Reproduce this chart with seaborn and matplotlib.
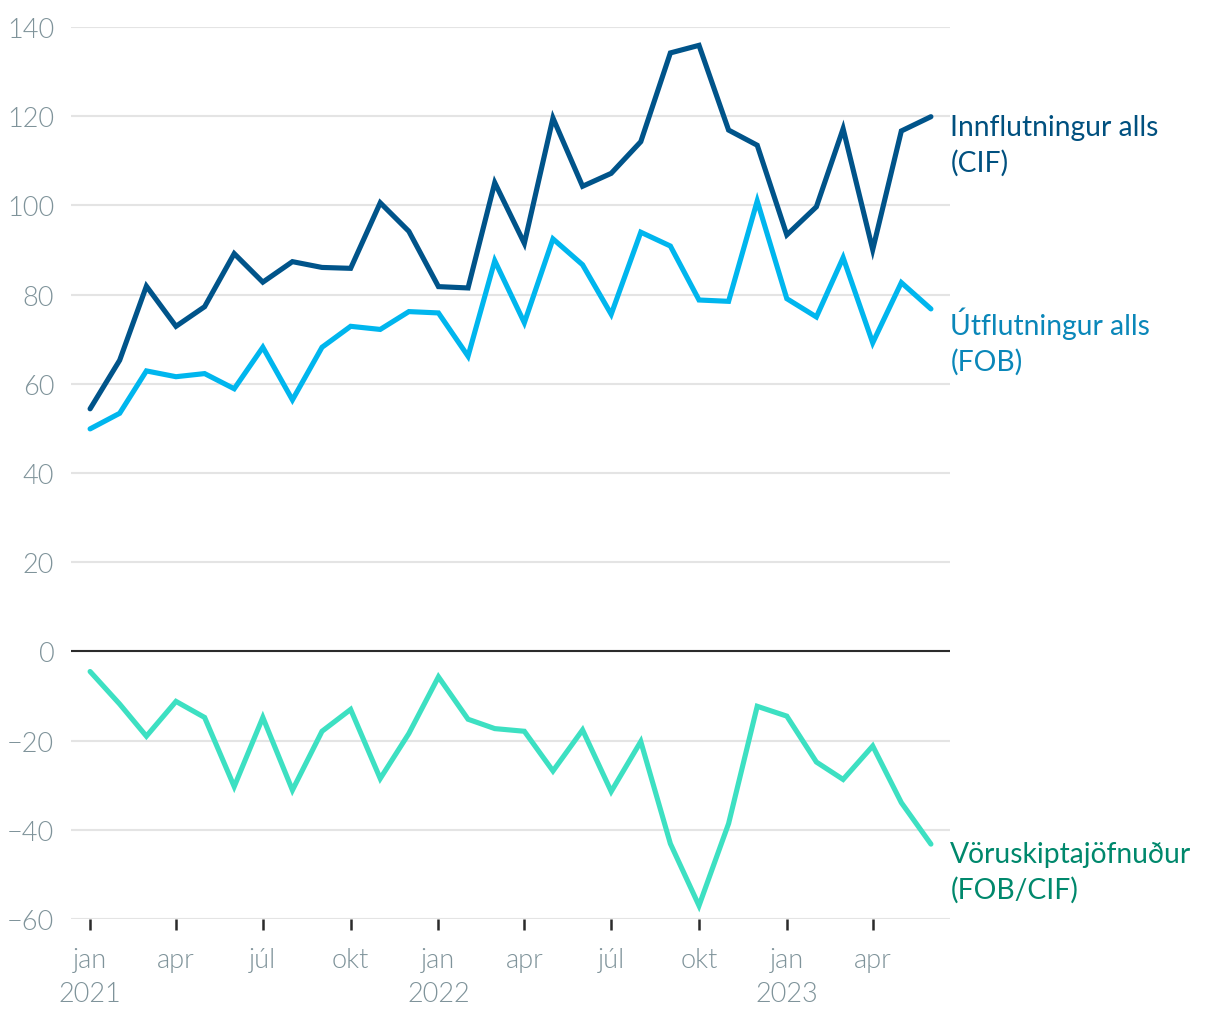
import pandas as pd
import matplotlib.pyplot as plt
import seaborn as sns

###############################################################################
#data (ma. kr.)
months = pd.date_range("2021-01-01", "2023-06-01", freq="MS")

innflutningur = [54.4, 65.3, 81.9, 72.9, 77.3, 89.2, 82.8, 87.4, 86.1, 85.9, 100.6, 94.2,
                 81.8, 81.5, 105.1, 91.5, 119.6, 104.3, 107.2, 114.3, 134.2, 135.9, 116.9, 113.5,
                 93.4, 99.7, 117.2, 90.1, 116.7, 119.9]
utflutningur = [49.9, 53.4, 62.9, 61.6, 62.3, 58.9, 68.2, 56.4, 68.2, 72.9, 72.2, 76.2,
                75.9, 66.2, 87.6, 73.7, 92.5, 86.7, 75.6, 94.0, 90.9, 78.8, 78.5, 101.0,
                79.1, 75.0, 88.3, 69.2, 82.7, 76.8]
voruskiptajofnudur = [-4.5, -11.8, -19.0, -11.2, -14.8, -30.3, -14.8, -31.1, -17.9, -13.0, -28.5, -18.4,
                      -5.7, -15.2, -17.3, -17.9, -26.8, -17.6, -31.4, -20.2, -43.1, -57.0, -38.6, -12.3,
                      -14.5, -24.8, -28.7, -21.2, -33.9, -43.2]

labels = ["Innflutningur alls\n(CIF)", "Útflutningur alls\n(FOB)", "Vöruskiptajöfnuður\n(FOB/CIF)"]
line_colors = ["#00548a", "#00b6ee", "#3de0c2"]
text_colors = ["#00507f", "#0a87b9", "#00886c"]
y_ticks = [-60, -40, -20, 0, 20, 40, 60, 80, 100, 120, 140]
x_ticks = pd.date_range("2021-01-01", "2023-04-01", freq="QS")
month_names = {1: "jan", 4: "apr", 7: "júl", 10: "okt"}

###############################################################################
#long dataframe for seaborn
df = pd.DataFrame({
    "dags": list(months) * 3,
    "gildi": innflutningur + utflutningur + voruskiptajofnudur,
    "flokkur": [labels[0]] * len(months) + [labels[1]] * len(months) + [labels[2]] * len(months),
})

sns.set_style("white")
plt.rcParams["font.family"] = ["Lato", "DejaVu Sans"]

fig = plt.figure(figsize=(12.2, 10.2), dpi=100)
ax = fig.add_axes([0.0582, 0.098, 0.7205, 0.8745])

sns.lineplot(data=df, x="dags", y="gildi", hue="flokkur", palette=dict(zip(labels, line_colors)),
             linewidth=3.7, legend=False, ax=ax, clip_on=False)
for line in ax.lines:
    line.set_solid_capstyle("round")
    line.set_solid_joinstyle("miter")
    line.set_zorder(3)

#zero line
ax.axhline(0, color="#2b2b2b", linewidth=1.5, zorder=2)

#labels at the end of each line
for series, lab, col in zip([innflutningur, utflutningur, voruskiptajofnudur], labels, text_colors):
    ax.annotate(lab, xy=(months[-1], series[-1]), xytext=(14, 2), textcoords="offset points",
                va="top", ha="left", fontsize=20.3, color=col, linespacing=1.4,
                annotation_clip=False)

#axes
ax.set_ylim(-60, 140)
ax.set_xlim(pd.Timestamp("2020-12-12"), pd.Timestamp("2023-06-21"))
ax.set_yticks(y_ticks)
ax.set_yticklabels([str(t).replace("-", "\u2212") for t in y_ticks])
ax.set_xticks(x_ticks)
ax.set_xticklabels([month_names[d.month] + ("\n" + str(d.year) if d.month == 1 else "") for d in x_ticks])
ax.yaxis.grid(True, color="#e4e4e4", linewidth=1.5)
ax.xaxis.grid(False)
for s in ax.spines.values():
    s.set_visible(False)
ax.tick_params(axis="y", left=False, length=0, pad=12, labelsize=19.5, labelcolor="#7f939a")
ax.tick_params(axis="x", bottom=True, length=8, width=1.8, color="#2b2b2b", pad=12,
               labelsize=19.5, labelcolor="#7f939a")
for t in ax.get_xticklabels() + ax.get_yticklabels():
    t.set_fontweight(300)
for t in ax.get_xticklabels():
    t.set_linespacing(1.45)
ax.set_xlabel("")
ax.set_ylabel("")

plt.savefig("out.png", dpi=100)
